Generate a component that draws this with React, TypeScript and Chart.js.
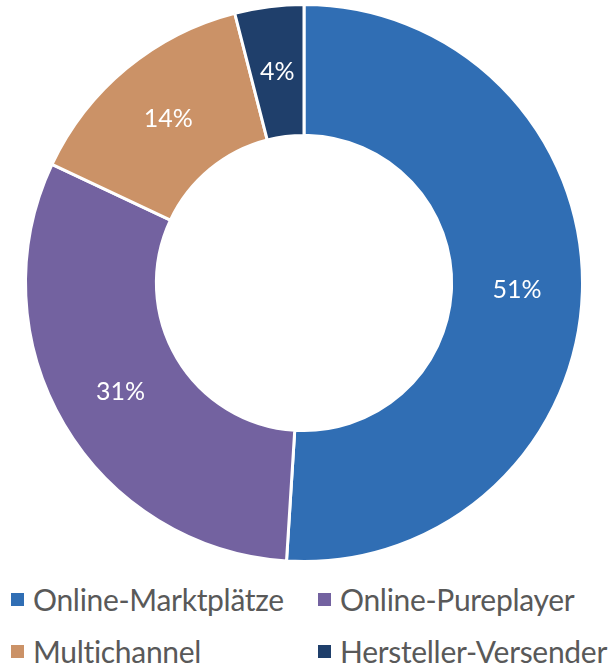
import React, { useEffect, useRef } from "react";
import { Chart, registerables } from "chart.js";

Chart.register(...registerables);

const categories = ["Online-Marktplätze", "Online-Pureplayer", "Multichannel", "Hersteller-Versender"];
const shares = [51, 31, 14, 4];
const sliceColors = ["#306EB4", "#7362A0", "#CB9267", "#1F3F6B"];
const valueLabels = ["51%", "31%", "14%", "4%"];

const FONT = "Lato, 'Open Sans', sans-serif";

const labelPlugin = {
  id: "sliceLabels",
  afterDatasetsDraw(chart: any) {
    const ctx = chart.ctx;
    const meta = chart.getDatasetMeta(0);
    ctx.save();
    ctx.fillStyle = "#FFFFFF";
    ctx.font = `25px ${FONT}`;
    ctx.textAlign = "center";
    ctx.textBaseline = "middle";
    meta.data.forEach((arc: any, i: number) => {
      const p = arc.tooltipPosition();
      ctx.fillText(valueLabels[i], p.x, p.y);
    });
    ctx.restore();
  },
};

export default function App() {
  const ref = useRef<HTMLCanvasElement>(null);
  useEffect(() => {
    if (!ref.current) return;
    const chart = new Chart(ref.current, {
      type: "doughnut",
      data: {
        labels: categories,
        datasets: [
          {
            data: shares,
            backgroundColor: sliceColors,
            borderColor: "#FFFFFF",
            borderWidth: 3,
          },
        ],
      },
      options: {
        responsive: false,
        animation: false,
        cutout: "53%",
        layout: { padding: { left: 24, right: 30, top: 3, bottom: 12 } },
        plugins: { legend: { display: false }, tooltip: { enabled: false } },
      },
      plugins: [labelPlugin],
    });
    return () => chart.destroy();
  }, []);

  const legendItem = (i: number) => (
    <div key={i} style={{ display: "flex", alignItems: "center", height: 40 }}>
      <span
        style={{
          width: 13,
          height: 13,
          flexShrink: 0,
          background: sliceColors[i],
          display: "inline-block",
          marginRight: 9,
        }}
      />
      <span
        style={{
          color: "#595959",
          fontSize: 30,
          fontFamily: FONT,
          whiteSpace: "nowrap",
          letterSpacing: "-0.3px",
          fontVariantLigatures: "none",
        }}
      >
        {categories[i]}
      </span>
    </div>
  );

  return (
    <div style={{ position: "absolute", left: 0, top: 0, width: 614, height: 665, background: "#fff" }}>
      <canvas ref={ref} width={614} height={575} style={{ display: "block" }} />
      <div
        style={{
          position: "absolute",
          left: 11,
          top: 579,
          display: "grid",
          gridTemplateColumns: "307px 296px",
          rowGap: 12,
        }}
      >
        {categories.map((_, i) => legendItem(i))}
      </div>
    </div>
  );
}
